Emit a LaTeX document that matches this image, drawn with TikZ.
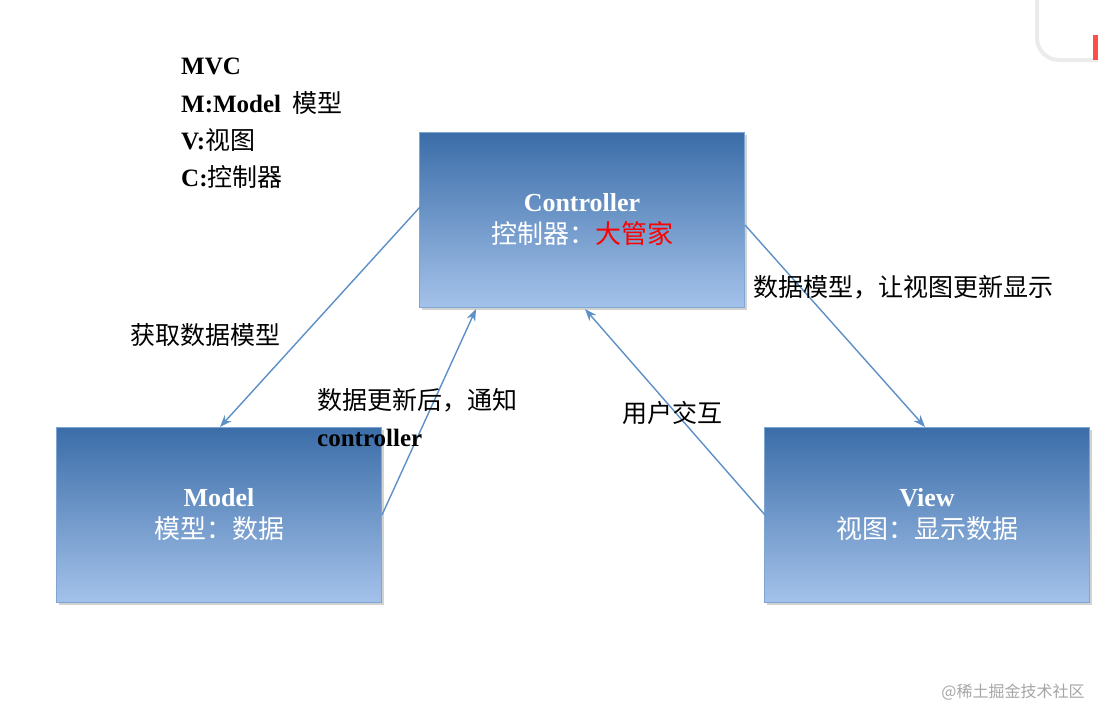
\documentclass[tikz,border=0pt]{standalone}
\usepackage{fontspec}
\setmainfont{Noto Sans CJK SC}
\newfontfamily\latf{Liberation Serif}
\usetikzlibrary{arrows.meta,shadows}
\definecolor{boxtop}{HTML}{3B6DA8}
\definecolor{boxbot}{HTML}{A4C2EA}
\definecolor{edge}{HTML}{5E90C8}
\begin{document}
\begin{tikzpicture}[x=1pt,y=-1pt,
  box/.style={draw=edge!80,line width=1.2pt,top color=boxtop,bottom color=boxbot,minimum width=325pt,minimum height=175pt,
    align=center,text=white,font=\fontsize{26}{32}\selectfont,drop shadow={shadow xshift=2pt,shadow yshift=-2pt,opacity=0.35}},
  conn/.style={draw=edge,line width=1.4pt,-{Stealth[length=12pt,width=9pt]}},
  lbl/.style={font=\fontsize{25}{30}\selectfont,text=black,inner sep=0pt}]
\useasboundingbox (0,0) rectangle (1098,710);
\fill[white] (0,0) rectangle (1098,710);
% corner
\draw[line width=4pt,black!8,rounded corners=22pt] (1037,-30) rectangle (1130,60);
\fill[red!60!pink] (1093,35) rectangle (1098,60);
% boxes
\node[box] (c) at (582,220) {{\latf\bfseries Controller}\\控制器：\textcolor{red}{大管家}};
\node[box] (m) at (219,515) {{\latf\bfseries Model}\\模型：数据};
\node[box] (v) at (927,515) {{\latf\bfseries View}\\视图：显示数据};
% connectors
\coordinate (c1) at (420,207);
\coordinate (c2) at (476,309);
\coordinate (c3) at (585,309);
\coordinate (c4) at (745,225);
\coordinate (m1) at (220,427);
\coordinate (m2) at (382,515);
\coordinate (v1) at (765,515);
\coordinate (v2) at (925,427);
\draw[conn] (c1) -- (m1);
\draw[conn] (m2) -- (c2);
\draw[conn] (v1) -- (c3);
\draw[conn] (c4) -- (v2);
% labels
\node[lbl] (l1) at (205,335) {获取数据模型};
\node[lbl,anchor=west] (l2) at (317,400) {数据更新后，通知};
\node[lbl,anchor=west] (l3) at (317,438) {\latf\bfseries controller};
\node[lbl] (l4) at (672,413) {用户交互};
\node[lbl] (l5) at (903,287) {数据模型，让视图更新显示};
% top-left
\node[lbl,anchor=west] (t1) at (181,66) {\latf\bfseries MVC};
\node[lbl,anchor=west] (t2) at (181,103) {{\latf\bfseries M:Model}\ \ 模型};
\node[lbl,anchor=west] (t3) at (181,140) {{\latf\bfseries V:}视图};
\node[lbl,anchor=west] (t4) at (181,177) {{\latf\bfseries C:}控制器};
\node[font=\fontsize{16}{18}\selectfont,text=black!35,inner sep=0pt] (wm) at (1013,692) {@稀土掘金技术社区};
\end{tikzpicture}
\end{document}
